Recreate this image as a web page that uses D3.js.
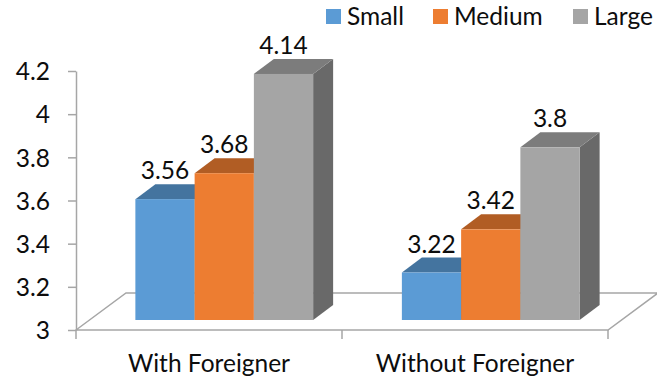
<!DOCTYPE html>
<html>
<head>
<meta charset="utf-8">
<script src="https://cdnjs.cloudflare.com/ajax/libs/d3/7.8.5/d3.min.js"></script>
<style>
  html, body { margin: 0; padding: 0; background: #fff; }
  text { font-family: Lato, "Open Sans", sans-serif; fill: #0d0d0d; }
</style>
</head>
<body>
<div class="chart"></div>
<script>
// Chart values
var categories = ["With Foreigner", "Without Foreigner"];
var seriesNames = ["Small", "Medium", "Large"];
var small = [3.56, 3.22];
var medium = [3.68, 3.42];
var large = [4.14, 3.8];
var valueTicks = [3, 3.2, 3.4, 3.6, 3.8, 4, 4.2];

var colors = { Small: "#5b9bd5", Medium: "#ed7d31", Large: "#a5a5a5" };
var topColors = { Small: "#44749f", Medium: "#b15d24", Large: "#7c7c7c" };
var sideColors = { Small: "#3d6890", Medium: "#9f5421", Large: "#696969" };

var svgWidth = 657;
var svgHeight = 379;
var axisColor = "#a6a6a6";
var fontSize = "24.5px";

// 3D box depth, in pixels
var depthX = 20;
var depthY = 15;

var svg = d3.select(".chart").append("svg")
  .attr("width", svgWidth)
  .attr("height", svgHeight)
  .style("display", "block");

// the axis sits on the front edge of the floor, the bars stand further back
var axisScale = d3.scaleLinear().domain([3, 4.2]).range([330, 71]);
var barScale = d3.scaleLinear().domain([3, 4.2]).range([320, 61]);

var groupScale = d3.scaleBand()
  .domain(categories)
  .range([91, 624])
  .paddingInner(0.333)
  .paddingOuter(0.1665);

var seriesScale = d3.scaleBand()
  .domain(seriesNames)
  .range([0, groupScale.bandwidth()]);

// floor of the 3D plot
var floor = { x0: 76, x1: 608, y0: 330, dx: 50, dy: 37 };
svg.append("path")
  .attr("d", `M${floor.x0},${floor.y0}L${floor.x0 + floor.dx},${floor.y0 - floor.dy}L${floor.x1 + floor.dx},${floor.y0 - floor.dy}L${floor.x1},${floor.y0}Z`)
  .attr("fill", "#fff")
  .attr("stroke", axisColor)
  .attr("stroke-width", 1.5);

// value axis
var leftAxis = d3.axisLeft(axisScale)
  .tickValues(valueTicks)
  .tickFormat(d3.format("~g"))
  .tickSize(8)
  .tickPadding(18)
  .tickSizeOuter(0);

var yAxis = svg.append("g")
  .attr("transform", "translate(76, 0)")
  .call(leftAxis);
yAxis.selectAll("line, path").attr("stroke", axisColor).attr("stroke-width", 1.5);
yAxis.selectAll("text").style("font-size", fontSize).attr("dy", "0.36em").attr("fill", "#0d0d0d");

// category axis: ticks at the band boundaries, labels centred on the bands
var catBoundaries = d3.scaleLinear().domain([0, 2]).range([floor.x0, floor.x1]);
svg.selectAll(".cat-tick")
  .data([0, 1, 2])
  .enter()
  .append("line")
  .attr("class", "cat-tick")
  .attr("x1", d => catBoundaries(d))
  .attr("x2", d => catBoundaries(d))
  .attr("y1", 330)
  .attr("y2", 339)
  .attr("stroke", axisColor)
  .attr("stroke-width", 1.5);

svg.selectAll(".cat-label")
  .data(categories)
  .enter()
  .append("text")
  .attr("class", "cat-label")
  .attr("x", (d, i) => catBoundaries(i + 0.5))
  .attr("y", 372)
  .attr("text-anchor", "middle")
  .style("font-size", fontSize)
  .text(d => d);

// flatten into one row per bar, drawn in series order so each box covers the last one's side
var bars = [];
categories.forEach(function(cat, i) {
  bars.push({ cat: cat, series: "Small", value: small[i] });
  bars.push({ cat: cat, series: "Medium", value: medium[i] });
  bars.push({ cat: cat, series: "Large", value: large[i] });
});

var barGroups = svg.selectAll(".bar")
  .data(bars)
  .enter()
  .append("g")
  .attr("class", "bar");

function barLeft(d) { return groupScale(d.cat) + seriesScale(d.series); }
function barRight(d) { return barLeft(d) + seriesScale.bandwidth(); }

// right side
barGroups.append("path")
  .attr("fill", d => sideColors[d.series])
  .attr("d", d => `M${barRight(d)},${barScale(d.value)}l${depthX},${-depthY}L${barRight(d) + depthX},${barScale(3) - depthY}L${barRight(d)},${barScale(3)}Z`);

// top
barGroups.append("path")
  .attr("fill", d => topColors[d.series])
  .attr("d", d => `M${barLeft(d)},${barScale(d.value)}l${depthX},${-depthY}L${barRight(d) + depthX},${barScale(d.value) - depthY}L${barRight(d)},${barScale(d.value)}Z`);

// front
barGroups.append("rect")
  .attr("x", barLeft)
  .attr("y", d => barScale(d.value))
  .attr("width", seriesScale.bandwidth())
  .attr("height", d => barScale(3) - barScale(d.value))
  .attr("fill", d => colors[d.series]);

// value labels are drawn last so no box covers them
svg.selectAll(".value-label")
  .data(bars)
  .enter()
  .append("text")
  .attr("class", "value-label")
  .attr("x", d => (barLeft(d) + barRight(d)) / 2)
  .attr("y", d => barScale(d.value) - 20)
  .attr("text-anchor", "middle")
  .style("font-size", fontSize)
  .text(d => d3.format("~g")(d.value));

// legend
var legendX = [326, 433, 573];
var legend = svg.selectAll(".legend")
  .data(seriesNames)
  .enter()
  .append("g")
  .attr("class", "legend")
  .attr("transform", (d, i) => `translate(${legendX[i]}, 9)`);

legend.append("rect")
  .attr("width", 15)
  .attr("height", 15)
  .attr("fill", d => colors[d]);

legend.append("text")
  .attr("x", 21)
  .attr("y", 16)
  .style("font-size", fontSize)
  .text(d => d);
</script>
</body>
</html>
